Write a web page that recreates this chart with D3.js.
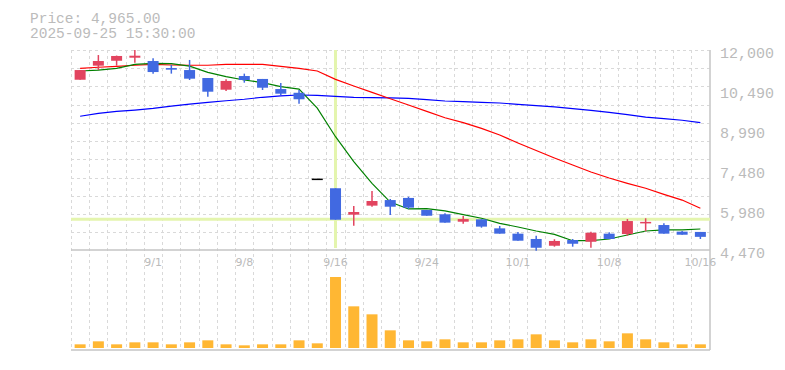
<!DOCTYPE html>
<html>
<head>
<meta charset="utf-8">
<script src="https://cdn.jsdelivr.net/npm/d3@7"></script>
<style>
  body { margin: 0; background: #fff; }
  svg { display: block; }
</style>
</head>
<body>
<svg id="chart" width="785" height="370"></svg>
<script>
const dates = [
  "8/26", "8/27", "8/28", "8/29", "9/1", "9/2", "9/3", "9/4", "9/5",
  "9/8", "9/9", "9/10", "9/11", "9/12", "9/16", "9/17", "9/18", "9/19",
  "9/22", "9/24", "9/25", "9/26", "9/29", "9/30", "10/1", "10/2", "10/3",
  "10/6", "10/7", "10/8", "10/9", "10/10", "10/14", "10/15", "10/16"
];
const opens = [
  10880, 11410, 11595, 11710, 11585, 11320, 11245, 10945, 10505,
  11020, 10910, 10530, 10390, 7130, 6795, 5800, 6140, 6350,
  6430, 5975, 5815, 5535, 5625, 5285, 5085, 4885, 4630,
  4845, 4780, 5085, 5070, 5500, 5410, 5160, 5150
];
const highs = [
  11245, 11810, 11790, 12000, 11685, 11435, 11625, 10945, 10895,
  11110, 10910, 10760, 10495, 7130, 6795, 6125, 6690, 6390,
  6475, 5975, 5850, 5750, 5625, 5375, 5150, 5010, 4875,
  4885, 5160, 5135, 5635, 5665, 5475, 5185, 5150
];
const lows = [
  10880, 11245, 11410, 11520, 11110, 11110, 10870, 10240, 10455,
  10770, 10495, 10305, 9980, 7130, 5610, 5385, 6100, 5790,
  6015, 5760, 5500, 5460, 5310, 5085, 4820, 4445, 4595,
  4595, 4555, 4885, 5010, 5175, 5085, 5045, 4885
];
const closes = [
  11245, 11585, 11775, 11785, 11170, 11260, 10920, 10430, 10835,
  10870, 10580, 10355, 10145, 7130, 5610, 5900, 6315, 6100,
  6065, 5760, 5500, 5635, 5350, 5085, 4820, 4555, 4810,
  4705, 5120, 4885, 5560, 5500, 5085, 5045, 4965
];
const volumes = [
  110, 200, 110, 170, 170, 110, 170, 230, 110,
  80, 110, 110, 230, 140, 2130, 1250, 1010, 530,
  230, 200, 260, 170, 170, 230, 260, 410, 230,
  170, 260, 200, 440, 260, 170, 110, 110
];
const maShort = [
  11210, 11245, 11310, 11460, 11500, 11485, 11395, 11160, 10995,
  10870, 10770, 10620, 10530, 9810, 8735, 7795, 6980, 6275,
  6015, 6025, 5940, 5800, 5665, 5475, 5335, 5185, 5060,
  4820, 4820, 4885, 5035, 5185, 5225, 5225, 5260
];
const maMid = [
  11310, 11350, 11385, 11425, 11460, 11435, 11425, 11425, 11460,
  11460, 11460, 11385, 11310, 11210, 10895, 10645, 10405, 10165,
  9930, 9690, 9450, 9265, 9050, 8800, 8500, 8215, 7935,
  7670, 7405, 7180, 6980, 6795, 6565, 6350, 6040
];
const maLong = [
  9505, 9615, 9690, 9740, 9805, 9890, 9965, 10030, 10090,
  10145, 10220, 10270, 10305, 10295, 10255, 10220, 10205, 10195,
  10180, 10130, 10080, 10055, 10030, 10005, 9955, 9905, 9855,
  9790, 9730, 9655, 9565, 9475, 9415, 9355, 9265
];
const priceTicks = [4470, 5980, 7480, 8990, 10490, 12000];
const dateTicks = ["9/1", "9/8", "9/16", "9/24", "10/1", "10/8", "10/16"];
const cursorDate = "9/16";
const cursorPrice = 5625;
const headerLines = ["Price: 4,965.00", "2025-09-25 15:30:00"];

const LEFT = 71;
const RIGHT = 709.5;
const PRICE_TOP = 50;
const PRICE_BOTTOM = 250;
const VOLUME_BOTTOM = 350;
const BODY_WIDTH = 11;
const TEXT_COLOR = "#bbb";
const GRID_COLOR = "#d9d9d9";
const UP_COLOR = "#e2445f";
const DOWN_COLOR = "#4169e1";

const svg = d3.select("#chart");

const x = d3.scaleBand().domain(dates).range([LEFT, RIGHT]);
const step = x.step();
const cx = (d) => x(d) + step / 2;

const y = d3.scaleLinear().domain([4470, 12000]).range([PRICE_BOTTOM, PRICE_TOP]);
const yVol = d3.scaleLinear().domain([0, d3.max(volumes)]).range([348, 277]);

const candles = dates.map((date, i) => ({
  date,
  open: opens[i],
  high: highs[i],
  low: lows[i],
  close: closes[i],
  volume: volumes[i],
}));

function candleColor(d) {
  if (d.close > d.open) return UP_COLOR;
  if (d.close < d.open) return DOWN_COLOR;
  return d.high === d.low ? "#000" : UP_COLOR;
}

// header
svg
  .append("g")
  .selectAll("text")
  .data(headerLines)
  .join("text")
  .attr("x", 30)
  .attr("y", (d, i) => 22.5 + i * 15)
  .attr("fill", TEXT_COLOR)
  .style("font", "14.5px 'Liberation Mono', monospace")
  .text((d) => d);

// grid
const grid = svg.append("g").attr("stroke", GRID_COLOR).attr("stroke-dasharray", "3,3");
grid
  .selectAll("line.v")
  .data(dates)
  .join("line")
  .attr("class", "v")
  .attr("x1", (d) => Math.round(x(d)) + 0.5)
  .attr("x2", (d) => Math.round(x(d)) + 0.5)
  .attr("y1", PRICE_TOP)
  .attr("y2", VOLUME_BOTTOM);
grid
  .selectAll("line.h")
  .data(d3.range(0, 11))
  .join("line")
  .attr("class", "h")
  .attr("x1", LEFT)
  .attr("x2", RIGHT)
  .attr("y1", (k) => Math.round(PRICE_TOP + k * step) + 0.5)
  .attr("y2", (k) => Math.round(PRICE_TOP + k * step) + 0.5);

// frame
const frame = svg.append("g").attr("stroke", "#c4c4c4").attr("stroke-width", 1.5);
frame.append("line").attr("x1", LEFT).attr("x2", 710).attr("y1", PRICE_BOTTOM).attr("y2", PRICE_BOTTOM);
frame.append("line").attr("x1", LEFT).attr("x2", 710).attr("y1", VOLUME_BOTTOM).attr("y2", VOLUME_BOTTOM);
frame.append("line").attr("x1", 710).attr("x2", 710).attr("y1", PRICE_TOP).attr("y2", VOLUME_BOTTOM);

// crosshair
const cursor = svg.append("g").attr("stroke", "#e4f5ae").attr("stroke-width", 3);
cursor
  .append("line")
  .attr("x1", cx(cursorDate))
  .attr("x2", cx(cursorDate))
  .attr("y1", PRICE_TOP)
  .attr("y2", 248);
cursor
  .append("line")
  .attr("x1", LEFT)
  .attr("x2", 710)
  .attr("y1", y(cursorPrice))
  .attr("y2", y(cursorPrice));

// price axis labels
svg
  .append("g")
  .selectAll("text")
  .data(priceTicks)
  .join("text")
  .attr("x", 720)
  .attr("y", (d) => y(d) + 8)
  .attr("fill", TEXT_COLOR)
  .style("font", "15px 'Liberation Mono', monospace")
  .text((d) => d3.format(",")(d));

// date labels
svg
  .append("g")
  .selectAll("text")
  .data(dateTicks)
  .join("text")
  .attr("x", (d) => cx(d))
  .attr("y", 266)
  .attr("text-anchor", "middle")
  .attr("fill", TEXT_COLOR)
  .style("font", "11px 'DejaVu Sans', sans-serif")
  .text((d) => d);

// volume
svg
  .append("g")
  .selectAll("rect")
  .data(candles)
  .join("rect")
  .attr("x", (d) => cx(d.date) - BODY_WIDTH / 2)
  .attr("width", BODY_WIDTH)
  .attr("y", (d) => yVol(d.volume))
  .attr("height", (d) => yVol(0) - yVol(d.volume))
  .attr("fill", "#ffb733");

// moving averages
const maLines = [
  { values: maLong, color: "#0000ff" },
  { values: maMid, color: "#ff0000" },
  { values: maShort, color: "#008000" },
];
const line = d3
  .line()
  .x((d, i) => cx(dates[i]))
  .y((d) => y(d));
svg
  .append("g")
  .selectAll("path")
  .data(maLines)
  .join("path")
  .attr("d", (d) => line(d.values))
  .attr("fill", "none")
  .attr("stroke", (d) => d.color)
  .attr("stroke-width", 1.2);

// candles
const candleGroup = svg.append("g");
candleGroup
  .selectAll("line")
  .data(candles.filter((d) => d.high !== d.low))
  .join("line")
  .attr("x1", (d) => cx(d.date))
  .attr("x2", (d) => cx(d.date))
  .attr("y1", (d) => y(d.high))
  .attr("y2", (d) => y(d.low))
  .attr("stroke", candleColor)
  .attr("stroke-width", 1.5);
candleGroup
  .selectAll("rect")
  .data(candles)
  .join("rect")
  .attr("x", (d) => cx(d.date) - BODY_WIDTH / 2)
  .attr("width", BODY_WIDTH)
  .attr("y", (d) => (d.open === d.close ? y(d.close) - 0.75 : y(Math.max(d.open, d.close))))
  .attr("height", (d) =>
    d.open === d.close ? 1.5 : Math.abs(y(d.open) - y(d.close))
  )
  .attr("fill", candleColor);
</script>
</body>
</html>
